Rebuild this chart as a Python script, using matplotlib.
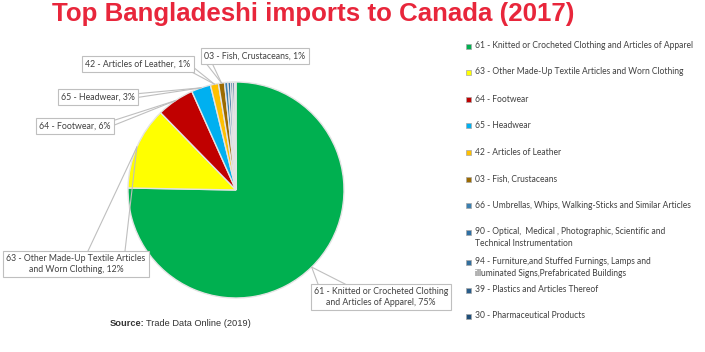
import numpy as np
import matplotlib
matplotlib.use("Agg")
import matplotlib.pyplot as plt
from matplotlib.patches import Rectangle
from matplotlib.lines import Line2D

# ---------------------------------------------------------------
# dados
# ---------------------------------------------------------------
codes = ["61", "63", "64", "65", "42", "03", "66", "90", "94", "39", "30"]
legend_names = [
    "61 - Knitted or Crocheted Clothing and Articles of Apparel",
    "63 - Other Made-Up Textile Articles and Worn Clothing",
    "64 - Footwear",
    "65 - Headwear",
    "42 - Articles of Leather",
    "03 - Fish, Crustaceans",
    "66 - Umbrellas, Whips, Walking-Sticks and Similar Articles",
    "90 - Optical,  Medical , Photographic, Scientific and\nTechnical Instrumentation",
    "94 - Furniture,and Stuffed Furnings, Lamps and\nilluminated Signs,Prefabricated Buildings",
    "39 - Plastics and Articles Thereof",
    "30 - Pharmaceutical Products",
]
shares = [75.3, 12.4, 5.6, 2.9, 1.2, 0.9, 0.5, 0.4, 0.3, 0.3, 0.2]
colors = ["#00B050", "#FFFF00", "#C00000", "#00B0F0", "#FFC000", "#9C6A00",
          "#3B7FB0", "#2E6FA3", "#326E9C", "#285C8A", "#1F4E79"]

# labels shown on the pie (index -> text)
pie_labels = {
    0: "61 - Knitted or Crocheted Clothing\nand Articles of Apparel, 75%",
    1: "63 - Other Made-Up Textile Articles\nand Worn Clothing, 12%",
    2: "64 - Footwear, 6%",
    3: "65 - Headwear, 3%",
    4: "42 - Articles of Leather, 1%",
    5: "03 - Fish, Crustaceans, 1%",
}

W, H = 705, 352
FONT = "Lato"

def fx(x):
    return x / W

def fy(y):
    return 1 - y / H

fig = plt.figure(figsize=(W / 100, H / 100), dpi=100)

# pie axes: center (236,190), radius 108 px
cx, cy, r = 236, 190, 108
ax = fig.add_axes([fx(cx - r), fy(cy + r), 2 * r / W, 2 * r / H])
wedges, _ = ax.pie(shares, colors=colors, startangle=90, counterclock=False,
                   radius=1.0, wedgeprops=dict(edgecolor="#E4E4E4", linewidth=1.0))
ax.set_xlim(-1, 1)
ax.set_ylim(-1, 1)
ax.set_aspect("equal")
ax.axis("off")

# title
fig.text(fx(313), fy(21), "Top Bangladeshi imports to Canada (2017)", color="#E8263B",
         fontsize=18.6, fontweight="bold", family="Liberation Sans", ha="center", va="baseline")

# source
fig.text(fx(110), fy(323), "Source:", fontsize=6.7, fontweight="bold",
         family="Liberation Sans", color="#333333", va="center")
fig.text(fx(146), fy(323), "Trade Data Online (2019)", fontsize=6.7,
         family="Liberation Sans", color="#333333", va="center")

# data label boxes: center position and leader attachment points on the box
label_boxes = {
    0: ((381, 297), [(318, 284), (345, 284)]),
    1: ((76, 264), [(88, 251), (125, 251)]),
    2: ((75, 126), [(112, 121), (112, 126)]),
    3: ((98, 97), [(134, 94), (134, 98)]),
    4: ((138, 64), [(188, 70), (193, 67)]),
    5: ((255, 56), [(205, 62), (212, 63)]),
}

fig.canvas.draw()
for i, (pos, anchors) in label_boxes.items():
    w = wedges[i]
    mid = np.deg2rad((w.theta1 + w.theta2) / 2)
    px, py = ax.transData.transform((np.cos(mid), np.sin(mid)))
    for (bx, by) in anchors:
        fig.add_artist(Line2D([px / W, fx(bx)], [py / H, fy(by)], transform=fig.transFigure,
                              color="#BFBFBF", lw=0.8, zorder=1))
    fig.text(fx(pos[0]), fy(pos[1]), pie_labels[i], fontsize=6.3, family=FONT,
             color="#404040", ha="center", va="center", multialignment="center",
             bbox=dict(boxstyle="square,pad=0.35", fc="white", ec="#BFBFBF", lw=0.8), zorder=3)

# legend on the right
legend_y = [46, 72, 99, 125, 152, 179, 205, 232, 262, 290, 316]
for name, col, y in zip(legend_names, colors, legend_y):
    fig.add_artist(Rectangle((fx(466), fy(y + 3)), 5 / W, 5 / H, transform=fig.transFigure,
                             fc=col, ec="#A6A6A6", lw=0.5))
    two = "\n" in name
    fig.text(fx(475), fy(y - 5) if two else fy(y), name, fontsize=6.15, family=FONT,
             color="#404040", va="top" if two else "center", linespacing=1.5)

fig.savefig("out.png", dpi=100)
